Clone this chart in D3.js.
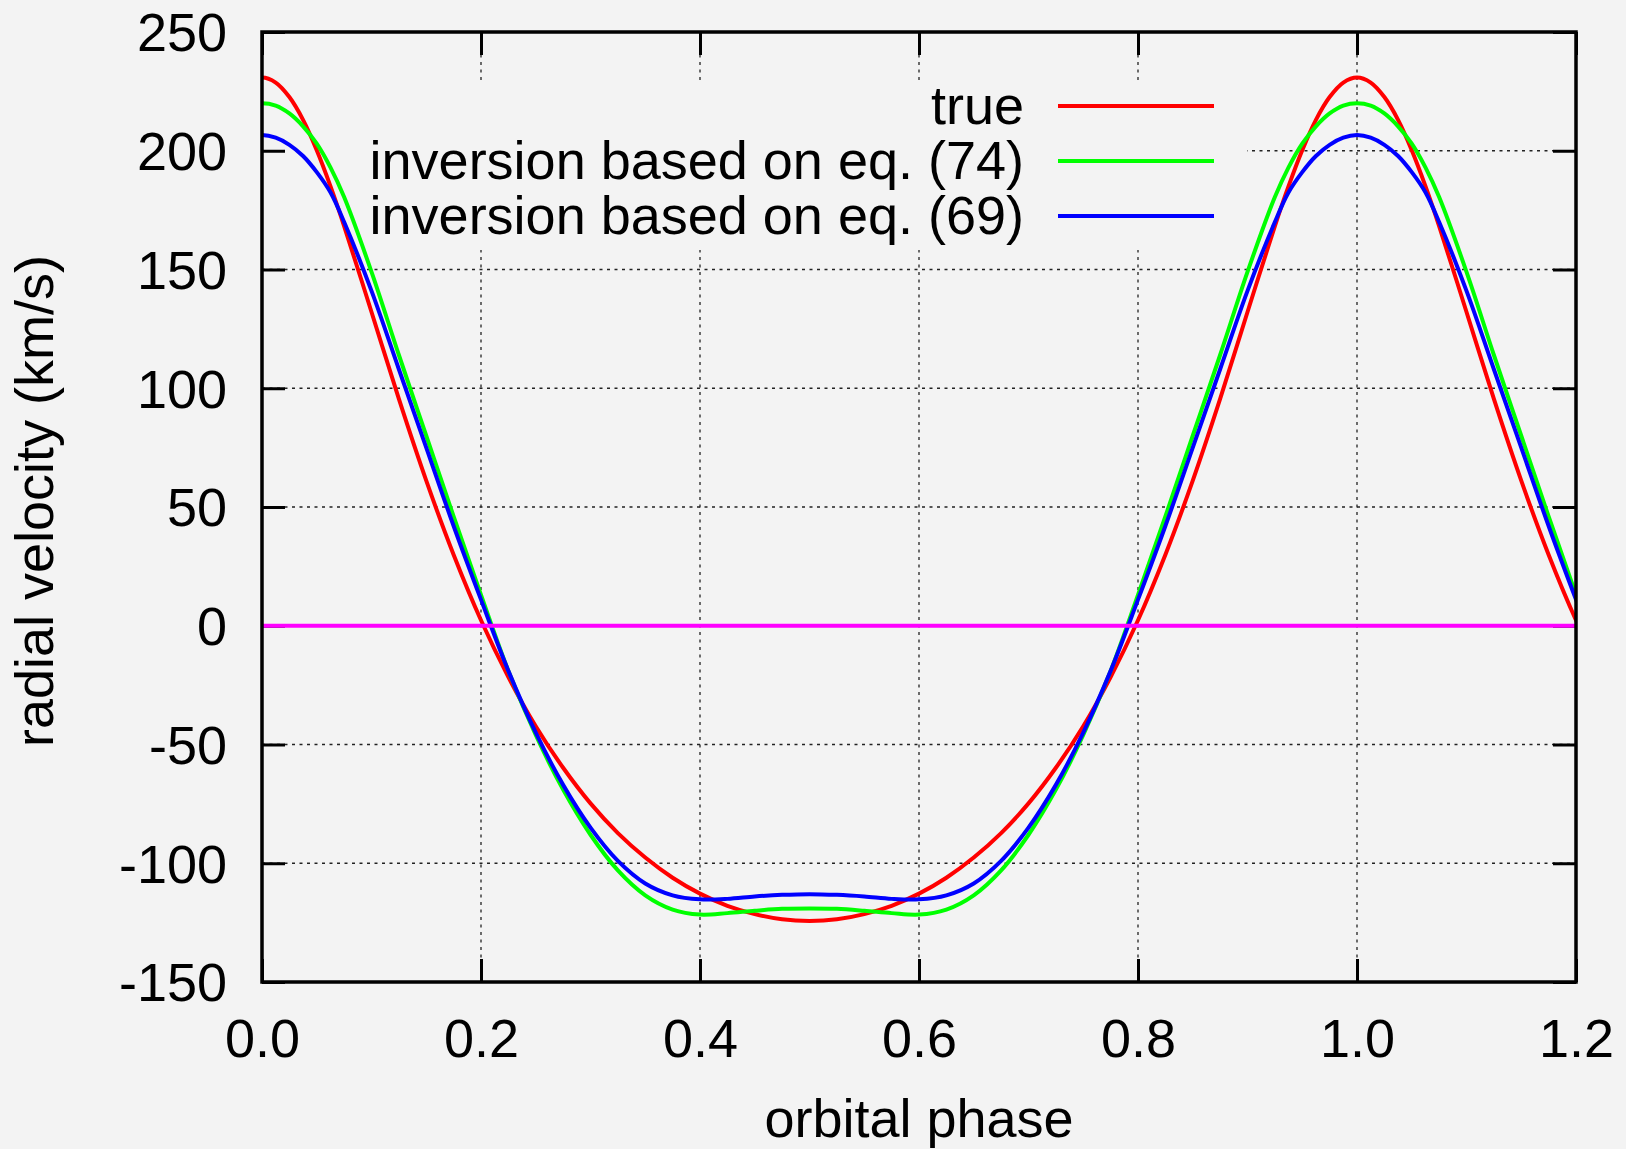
<!DOCTYPE html>
<html>
<head>
<meta charset="utf-8">
<script src="https://cdn.jsdelivr.net/npm/d3@7"></script>
<style>
  html, body { margin: 0; padding: 0; background: #f3f3f3; }
  svg { display: block; font-family: "Liberation Sans", Arial, Helvetica, sans-serif; }
  .tick text { font-size: 54px; fill: #000; }
  .axis-title { font-size: 54px; fill: #000; }
  .legend-label { font-size: 54px; fill: #000; }
</style>
</head>
<body>
<svg id="chart"></svg>
<script>
// orbital phase sample points (denser around the maxima, a bit past both edges so the curves enter smoothly)
const phases = [-0.0375, -0.025, -0.0125,
  0, 0.0125, 0.025, 0.0375, 0.05, 0.0625, 0.075,
  0.1, 0.125, 0.15, 0.175, 0.2, 0.225, 0.25, 0.275, 0.3, 0.325, 0.35, 0.375, 0.4, 0.425, 0.45, 0.475, 0.5,
  0.525, 0.55, 0.575, 0.6, 0.625, 0.65, 0.675, 0.7, 0.725, 0.75, 0.775, 0.8, 0.825, 0.85, 0.875, 0.9,
  0.925, 0.9375, 0.95, 0.9625, 0.975, 0.9875, 1.0, 1.0125, 1.025, 1.0375, 1.05, 1.0625, 1.075,
  1.1, 1.125, 1.15, 1.175, 1.2, 1.225];

// true radial velocity (km/s)
const trueRV = [213.0, 222.6, 228.7,
  230.8, 228.7, 222.6, 213.0, 200.2, 185.1, 168.3,
  132.1, 95.5, 61.1, 29.9, 2.3, -21.6, -42.3, -59.8, -74.8, -87.3, -97.6, -106.1, -112.8, -117.9, -121.4, -123.6, -124.3,
  -123.6, -121.4, -117.9, -112.8, -106.1, -97.6, -87.3, -74.8, -59.8, -42.3, -21.6, 2.3, 29.9, 61.1, 95.5, 132.1,
  168.3, 185.1, 200.2, 213.0, 222.6, 228.7, 230.8, 228.7, 222.6, 213.0, 200.2, 185.1, 168.3,
  132.1, 95.5, 61.1, 29.9, 2.3, -21.6];

// inversion based on eq. (74)
const inv74 = [210.3, 215.7, 219,
  220, 219, 215.7, 210.3, 203, 193, 180.5,
  149, 114, 80, 46, 13, -19, -46, -69, -88, -103, -113.5, -119.5, -121.6, -121, -120, -119.2, -119,
  -119.2, -120, -121, -121.6, -119.5, -113.5, -103, -88, -69, -46, -19, 13, 46, 80, 114, 149,
  180.5, 193, 203, 210.3, 215.7, 219, 220, 219, 215.7, 210.3, 203, 193, 180.5,
  149, 114, 80, 46, 13, -19];

// inversion based on eq. (69)
const inv69 = [197.8, 202.5, 205.5,
  206.6, 205.5, 202.5, 197.8, 191, 182.5, 170,
  141, 108, 75, 42, 11, -19, -45, -67, -85, -99, -108.5, -113.5, -115.2, -115, -114, -113.3, -113,
  -113.3, -114, -115, -115.2, -113.5, -108.5, -99, -85, -67, -45, -19, 11, 42, 75, 108, 141,
  170, 182.5, 191, 197.8, 202.5, 205.5, 206.6, 205.5, 202.5, 197.8, 191, 182.5, 170,
  141, 108, 75, 42, 11, -19];

const seriesNames = ['true', 'inversion based on eq. (74)', 'inversion based on eq. (69)'];
const seriesColors = ['#ff0000', '#00ff00', '#0000ff'];

const xTicks = [0, 0.2, 0.4, 0.6, 0.8, 1.0, 1.2];
const yTicks = [-150, -100, -50, 0, 50, 100, 150, 200, 250];

class LineChart {

  constructor(_config, _data) {
    this.config = {
      parentElement: _config.parentElement,
      containerWidth: _config.containerWidth || 1626,
      containerHeight: _config.containerHeight || 1149,
      margin: _config.margin || {top: 32, right: 50, bottom: 167, left: 262},
      tickLength: 23,
    }
    this.data = _data;
    this.initVis();
  }

  initVis() {
    let vis = this;

    vis.width = vis.config.containerWidth - vis.config.margin.left - vis.config.margin.right;
    vis.height = vis.config.containerHeight - vis.config.margin.top - vis.config.margin.bottom;

    vis.xScale = d3.scaleLinear()
        .domain([0, 1.2])
        .range([0, vis.width]);

    vis.yScale = d3.scaleLinear()
        .domain([-150, 250])
        .range([vis.height, 0]);

    vis.svg = d3.select(vis.config.parentElement)
        .attr('width', vis.config.containerWidth)
        .attr('height', vis.config.containerHeight);

    vis.svg.append('rect')
        .attr('width', vis.config.containerWidth)
        .attr('height', vis.config.containerHeight)
        .attr('fill', '#f3f3f3');

    vis.svg.append('clipPath')
        .attr('id', 'plot-clip')
      .append('rect')
        .attr('width', vis.width)
        .attr('height', vis.height);

    vis.chart = vis.svg.append('g')
        .attr('transform', `translate(${vis.config.margin.left},${vis.config.margin.top})`);

    vis.gridG = vis.chart.append('g').attr('class', 'grid');
    vis.keyBg = vis.chart.append('rect').attr('class', 'key-bg');

    // ticks go under the curves, like gnuplot does
    vis.xAxisG = vis.chart.append('g')
        .attr('class', 'axis x-axis')
        .attr('transform', `translate(0,${vis.height})`);
    vis.xAxisTopG = vis.chart.append('g').attr('class', 'axis x-axis-top');
    vis.yAxisG = vis.chart.append('g').attr('class', 'axis y-axis');
    vis.yAxisRightG = vis.chart.append('g')
        .attr('class', 'axis y-axis-right')
        .attr('transform', `translate(${vis.width},0)`);

    vis.linesG = vis.chart.append('g')
        .attr('class', 'lines')
        .attr('clip-path', 'url(#plot-clip)');
    vis.keyG = vis.chart.append('g').attr('class', 'key');

    vis.border = vis.chart.append('rect')
        .attr('width', vis.width)
        .attr('height', vis.height)
        .attr('fill', 'none')
        .attr('stroke', '#000')
        .attr('stroke-width', 3.5);

    // axis titles
    vis.svg.append('text')
        .attr('class', 'axis-title')
        .attr('x', vis.config.margin.left + vis.width / 2)
        .attr('y', 1137)
        .style('text-anchor', 'middle')
        .text('orbital phase');

    vis.svg.append('text')
        .attr('class', 'axis-title')
        .attr('transform', 'translate(53,501) rotate(-90)')
        .style('text-anchor', 'middle')
        .text('radial velocity (km/s)');

    vis.updateVis();
  }

  updateVis() {
    let vis = this;
    vis.xValue = d => d.phase;
    vis.yValue = d => d.v;

    vis.line = d3.line()
        .x(d => vis.xScale(vis.xValue(d)))
        .y(d => vis.yScale(vis.yValue(d)))
        .curve(d3.curveCatmullRom.alpha(0.5));

    vis.renderVis();
  }

  renderVis() {
    let vis = this;
    const tl = vis.config.tickLength;

    // dotted grid
    vis.gridG.selectAll('.vgrid')
        .data(xTicks.slice(1, -1))
      .join('line')
        .attr('class', 'vgrid')
        .attr('x1', d => vis.xScale(d))
        .attr('x2', d => vis.xScale(d))
        .attr('y1', 0)
        .attr('y2', vis.height);
    vis.gridG.selectAll('.hgrid')
        .data(yTicks.slice(1, -1))
      .join('line')
        .attr('class', 'hgrid')
        .attr('x1', 0)
        .attr('x2', vis.width)
        .attr('y1', d => vis.yScale(d))
        .attr('y2', d => vis.yScale(d));
    vis.gridG.selectAll('line')
        .attr('stroke', '#222')
        .attr('stroke-width', 1.3)
        .attr('stroke-dasharray', '3,4.5');

    // key box covers the grid behind the legend
    vis.keyBg
        .attr('x', 0)
        .attr('y', 48)
        .attr('width', 985)
        .attr('height', 170)
        .attr('fill', '#f3f3f3');

    // axes with inward ticks
    vis.xAxis = d3.axisBottom(vis.xScale)
        .tickValues(xTicks)
        .tickSize(-tl)
        .tickPadding(37)
        .tickFormat(d3.format('.1f'));
    vis.yAxis = d3.axisLeft(vis.yScale)
        .tickValues(yTicks)
        .tickSize(-tl)
        .tickPadding(35)
        .tickFormat(d => String(d));

    vis.xAxisG.call(vis.xAxis);
    vis.yAxisG.call(vis.yAxis);
    vis.xAxisTopG.call(d3.axisTop(vis.xScale).tickValues(xTicks).tickSize(-tl).tickFormat(''));
    vis.yAxisRightG.call(d3.axisRight(vis.yScale).tickValues(yTicks).tickSize(-tl).tickFormat(''));

    vis.chart.selectAll('.axis .domain').remove();
    vis.chart.selectAll('.axis .tick line')
        .attr('stroke', '#000')
        .attr('stroke-width', 3);
    vis.yAxisG.selectAll('.tick text').attr('dy', '0.35em');

    // curves
    vis.linesG.selectAll('.curve')
        .data(vis.data)
      .join('path')
        .attr('class', 'curve')
        .attr('fill', 'none')
        .attr('stroke', d => d.color)
        .attr('stroke-width', 4)
        .attr('stroke-linejoin', 'round')
        .attr('d', d => vis.line(d.values));

    // zero line
    vis.linesG.append('line')
        .attr('x1', vis.xScale(0))
        .attr('x2', vis.xScale(1.2))
        .attr('y1', vis.yScale(0))
        .attr('y2', vis.yScale(0))
        .attr('stroke', '#ff00ff')
        .attr('stroke-width', 4);

    // legend
    const keyRows = vis.keyG.selectAll('.key-row')
        .data(vis.data)
      .join('g')
        .attr('class', 'key-row')
        .attr('transform', (d, i) => `translate(0,${74 + i * 55})`);
    keyRows.append('text')
        .attr('class', 'legend-label')
        .attr('x', 762)
        .attr('dy', '0.33em')
        .style('text-anchor', 'end')
        .text(d => d.name);
    keyRows.append('line')
        .attr('x1', 796)
        .attr('x2', 952)
        .attr('stroke', d => d.color)
        .attr('stroke-width', 4);

    vis.border.raise();
  }
}

const data = seriesNames.map((name, i) => ({
  name: name,
  color: seriesColors[i],
  values: phases.map((p, j) => ({phase: p, v: [trueRV, inv74, inv69][i][j]}))
}));

const chart = new LineChart({parentElement: '#chart'}, data);
</script>
</body>
</html>
